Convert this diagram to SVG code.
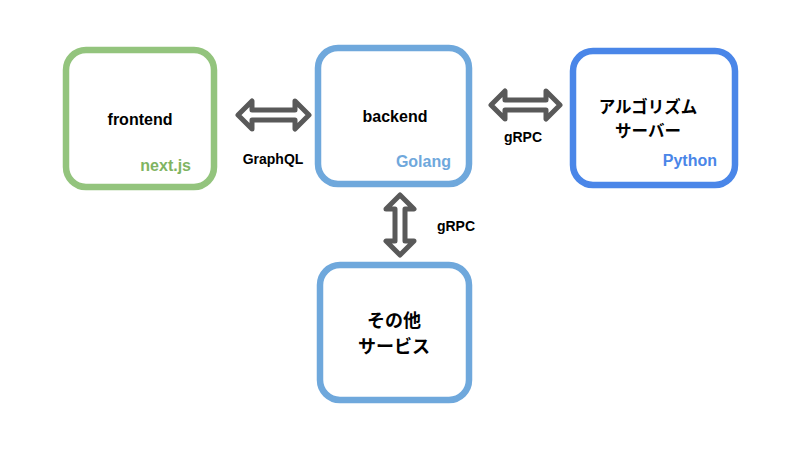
<svg xmlns="http://www.w3.org/2000/svg" width="800" height="450" viewBox="0 0 800 450">
<style>
.box{fill:#ffffff;stroke-width:6.5}
.t{font-family:"Liberation Sans","Noto Sans CJK JP",Arial,sans-serif;font-weight:bold;fill:#000000}
.jp{font-family:"Noto Sans CJK JP","Liberation Sans",sans-serif;font-weight:bold;fill:#000000}
.lbl{font-family:"Liberation Sans",Arial,sans-serif;font-weight:bold;font-size:14px;fill:#000000}
.arrow{fill:#ffffff;stroke:#595959;stroke-width:5;stroke-linejoin:round}
</style>
<rect width="800" height="450" fill="#ffffff"/>
<g id="frontend">
<rect class="box" x="66" y="50" width="148" height="137" rx="20" stroke="#93c47d"/>
<text class="t" x="140" y="125" font-size="16" text-anchor="middle">frontend</text>
<text class="t" x="191" y="171" font-size="16" text-anchor="end" style="fill:#7fb462">next.js</text>
</g>
<g id="backend">
<rect class="box" x="318" y="48" width="151" height="136" rx="20" stroke="#6fa8dc"/>
<text class="t" x="395" y="122" font-size="16" text-anchor="middle">backend</text>
<text class="t" x="451" y="167" font-size="16" text-anchor="end" style="fill:#6fa8dc">Golang</text>
</g>
<g id="algorithm">
<rect class="box" x="573" y="51" width="162" height="134" rx="20" stroke="#4a86e8"/>
<text class="jp" x="648" y="113" font-size="16.5" text-anchor="middle">アルゴリズム</text>
<text class="jp" x="648" y="137" font-size="16.5" text-anchor="middle">サーバー</text>
<text class="t" x="717" y="166" font-size="16" text-anchor="end" style="fill:#4a86e8">Python</text>
</g>
<g id="others">
<rect class="box" x="320" y="265" width="149" height="135" rx="20" stroke="#6fa8dc"/>
<text class="jp" x="394" y="327" font-size="18" text-anchor="middle">その他</text>
<text class="jp" x="394" y="353" font-size="18" text-anchor="middle">サービス</text>
</g>
<g id="connectors">
<path class="arrow" d="M238,115 L252,101 L252,110 L295,110 L295,101 L309,115 L295,129 L295,120 L252,120 L252,129 Z"/>
<text class="lbl" x="273" y="164" text-anchor="middle">GraphQL</text>
<path class="arrow" d="M491,105 L505,91 L505,100 L546,100 L546,91 L560,105 L546,119 L546,110 L505,110 L505,119 Z"/>
<text class="lbl" x="523" y="142" text-anchor="middle">gRPC</text>
<path class="arrow" d="M400,195 L414,209 L405,209 L405,241 L414,241 L400,255 L386,241 L395,241 L395,209 L386,209 Z"/>
<text class="lbl" x="456" y="231" text-anchor="middle">gRPC</text>
</g>
</svg>
